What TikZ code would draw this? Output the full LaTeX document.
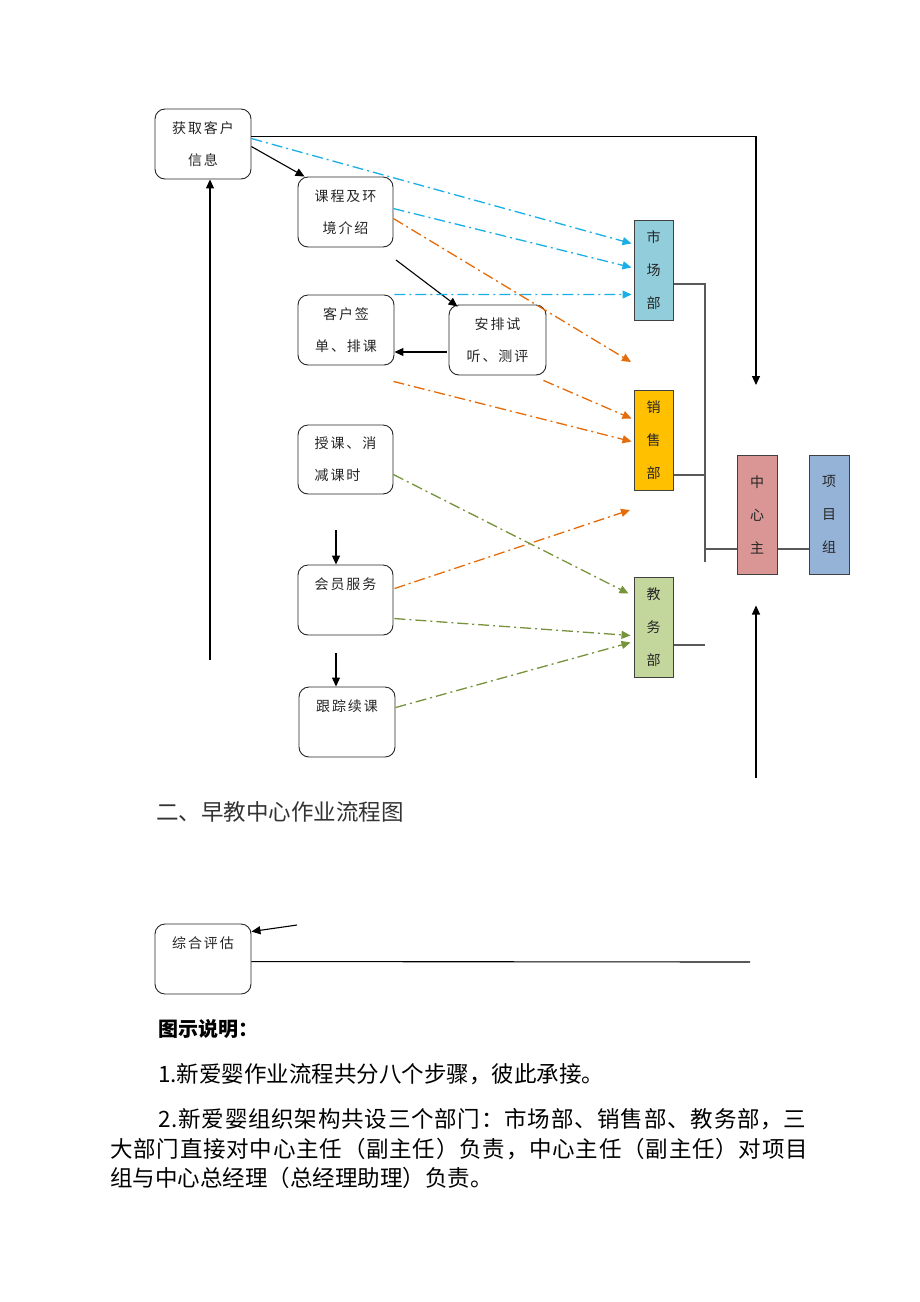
\documentclass[tikz,border=0pt]{standalone}
\usepackage{fontspec}
\newfontfamily\cjk{Noto Sans CJK SC}
\newfontfamily\cjkwide[LetterSpace=3.5]{Noto Sans CJK SC}
\newfontfamily\boxfont[LetterSpace=14]{Noto Sans CJK SC}
\usetikzlibrary{arrows.meta,calc}
\definecolor{bl}{HTML}{1AAFE6}
\definecolor{og}{HTML}{E46C0A}
\definecolor{gn}{HTML}{77933C}
\definecolor{mktc}{HTML}{92CDDC}
\definecolor{salc}{HTML}{FFC000}
\definecolor{educ}{HTML}{C3D69B}
\definecolor{ctrc}{HTML}{D99694}
\definecolor{prjc}{HTML}{95B3D7}
\begin{document}
\begin{tikzpicture}[x=1pt,y=-1pt,
  stepbox/.style={draw=black!85, line width=0.9pt, rounded corners=10pt, inner sep=0pt,
    minimum width=96pt, minimum height=70pt, align=center,
    font=\boxfont\fontsize{14}{32}\selectfont, text=black!85},
  dept/.style={draw=black!75, line width=1pt, minimum width=39pt, minimum height=100pt,
    inner sep=0pt, align=center, font=\cjk\fontsize{14}{33}\selectfont, text=black!85},
  arr/.style={-{Triangle[length=9pt,width=8pt]}, line width=1.1pt, black},
  dd/.style={dash pattern=on 11pt off 4pt on 2pt off 4pt, line width=1.3pt,
    -{Triangle[length=9pt,width=8pt]}},
  bline/.style={dd, color=bl},
  oline/.style={dd, color=og},
  gline/.style={dd, color=gn},
  grey/.style={draw=black!65, line width=1.1pt},
  para/.style={anchor=west, inner sep=0pt, font=\cjk\fontsize{22.5}{22.5}\selectfont},
  parawide/.style={para, font=\cjkwide\fontsize{22.5}{22.5}\selectfont}
]
\fill[white] (0,0) rectangle (920,1302);
\useasboundingbox (0,0) rectangle (920,1302);

% flow boxes
\node[stepbox] (A) at (203,144) {获取客户\\信息};
\node[stepbox, minimum width=95pt] (B) at (345.5,212) {课程及环\\境介绍};
\node[stepbox] (C) at (346,330) {客户签\\单、排课};
\node[stepbox, minimum width=97pt] (D) at (497.5,340) {安排试\\听、测评};
\node[stepbox, minimum width=95pt, minimum height=69pt, align=left] (E) at (345.5,459.5) {授课、消\\减课时};
\node[stepbox, minimum width=95pt] (F) at (345.5,600) {会员服务\\\phantom{会}};
\node[stepbox] (G) at (347,722) {跟踪续课\\\phantom{会}};
\node[stepbox] (H) at (203,959) {综合评估\\\phantom{会}};

% departments
\node[dept, fill=mktc] (mkt) at (653.5,270) {市\\场\\部};
\node[dept, fill=salc] (sal) at (653.5,440) {销\\售\\部};
\node[dept, fill=educ] (edu) at (653.5,627) {教\\务\\部};
\node[dept, fill=ctrc, minimum width=40pt, minimum height=119pt] (ctr) at (757,514.5) {中\\心\\主};
\node[dept, fill=prjc, minimum width=40pt, minimum height=119pt] (prj) at (829,514.5) {项\\目\\组};

% free-end coordinates
\coordinate (c1) at (756,385);
\coordinate (o1) at (631,362);
\coordinate (o2) at (630,510);
\coordinate (k1) at (396,260);
\coordinate (k2) at (336,530);
\coordinate (k3) at (336,653);
\coordinate (k4) at (210,660);
\coordinate (k5) at (756,778);
\coordinate (k7) at (297,925);
\coordinate (k8) at (750,962);
\coordinate (g1) at (705,562);

% black connectors
\draw[arr] ($(A.north east)+(0,28)$) -| (c1);
\draw[arr] ($(A.north east)+(0,38)$) -- ($(B.north west)+(7,0)$);
\draw[arr] (k1) -- ($(D.north west)+(9,2)$);
\draw[arr] ($(D.west)+(-2,12)$) -- ($(C.east)+(0,22)$);
\draw[arr] (k2) -- ($(F.north)+(-9.5,0)$);
\draw[arr] (k3) -- ($(G.north)+(-11,0)$);
\draw[arr] (k4) -- ($(A.south)+(7,0)$);
\draw[arr] (k5) -- ($(ctr.south)+(-1,31)$);
\draw[arr] (k7) -- ($(H.north east)+(0,8)$);
\draw[line width=1.1pt] ($(H.north east)+(0,38)$) -- (k8);

% blue dash-dot
\draw[bline] ($(A.north east)+(0,30)$) -- ($(mkt.north west)+(-2,24)$);
\draw[bline] ($(B.north east)+(0,32)$) -- ($(mkt.north west)+(-2,48)$);
\draw[bline] ($(C.north east)+(0,0)$) -- ($(mkt.north west)+(-2,75)$);

% orange dash-dot
\draw[oline] ($(B.north east)+(0,42)$) -- (o1);
\draw[oline] ($(D.south east)+(-3,5)$) -- ($(sal.north west)+(-2,29)$);
\draw[oline] ($(C.south east)+(-1,16)$) -- ($(sal.north west)+(-2,52)$);
\draw[oline] ($(F.north east)+(1,24)$) -- (o2);

% green dash-dot
\draw[gline] ($(E.north east)+(0,50)$) -- ($(edu.north west)+(-5,17)$);
\draw[gline] ($(F.north east)+(1,54)$) -- ($(edu.north west)+(-3,59)$);
\draw[gline] ($(G.north east)+(0,21)$) -- ($(edu.north west)+(-3,66)$);

% grey organisation lines
\draw[grey] ($(mkt.east)+(0,14)$) -| (g1);
\draw[grey] ($(sal.east)+(0,35)$) coordinate (s1) -- (s1 -| g1);
\draw[grey] ($(ctr.west)+(0,34.5)$) coordinate (s2) -- (s2 -| g1);
\draw[grey] ($(ctr.east)+(0,34.5)$) -- ($(prj.west)+(0,34.5)$);
\draw[grey] ($(edu.east)+(0,18)$) coordinate (s3) -- (s3 -| g1);

% texts
\node[para, text=black!80] (title) at (156,812) {二、早教中心作业流程图};
\node[para, font=\cjk\bfseries\fontsize{20}{20}\selectfont] (legend) at (158,1029) {图示说明：};
\node[para] (p1) at (158,1074) {1.新爱婴作业流程共分八个步骤，彼此承接。};
\node[parawide] (p2) at (158,1119) {2.新爱婴组织架构共设三个部门：市场部、销售部、教务部，三};
\node[parawide] (p3) at (110,1149) {大部门直接对中心主任（副主任）负责，中心主任（副主任）对项目};
\node[para] (p4) at (110,1178) {组与中心总经理（总经理助理）负责。};
\end{tikzpicture}
\end{document}
